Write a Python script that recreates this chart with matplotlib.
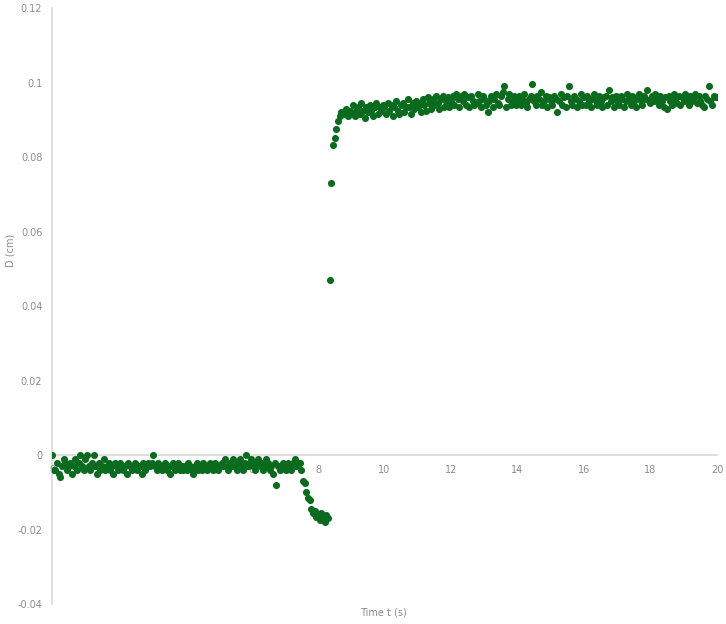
import numpy as np
import matplotlib.pyplot as plt

# sampling step of the tracked video (s)
dt = 0.05

# displacement D, in micrometres, one value per frame
d_base = [
    0, -40, -40, -20, -50, -60, -30, -10, -20, -40, -30, -20, -50, -30, -10, -40, -20, 0, -30, -40,
    -10, 0, -30, -40, -20, 0, -30, -50, -20, -40, -30, -10, -40, -30, -20, -40, -30, -50, -20, -30,
    -40, -20, -30, -40, -30, -50, -20, -30, -40, -30, -20, -40, -30, -30, -50, -20, -40, -30, -20, -30,
    -20, 0, -30, -40, -20, -30, -40, -30, -20, -40, -30, -50, -30, -20, -40, -30, -20, -40, -30, -40,
    -30, -40, -20, -30, -40, -50, -30, -20, -40, -30, -40, -20, -30, -40, -30, -20, -30, -40, -20, -30,
    -40, -30, -20, -30, -10, -30, -40, -20, -30, -10, -30, -40, -20, -10, -30, -40, -20, 0, -30, -20,
    -10, -30, -40, -20, -10, -30, -20, -40, -30, -10, -20, -40, -30, -50, -20, -80, -30, -40, -30, -20,
    -30, -40, -20, -30, -40, -20, -10, -30, -20,
]
d_drop = [-20, -40, -70, -75, -100, -115, -120, -145, -155, -150, -165, -160, -175, -155, -170, -180, -160, -170]
d_jump = [470, 730, 833, 850, 876, 898, 910, 920, 915]
d_top = [
    920, 930, 910, 925,
    915, 940, 910, 925, 935, 915, 945, 925, 905, 935, 920, 940, 925, 910, 935, 945, 915, 935, 925, 940,
    935, 915, 945, 925, 940, 910, 935, 950, 925, 915, 940, 945, 920, 935, 955, 935, 915, 945, 930, 950,
    935, 945, 920, 955, 940, 925, 960, 945, 930, 955, 940, 965, 945, 930, 955, 965, 935, 950, 960, 935,
    950, 965, 940, 970, 955, 935, 965, 950, 970, 940, 960, 935, 965, 950, 940, 945, 970, 950, 935, 965,
    955, 940, 920, 950, 965, 935, 955, 970, 945, 940, 965, 975, 990, 935, 955, 970, 940, 950, 965, 940,
    950, 965, 940, 955, 970, 945, 935, 955, 965, 995, 950, 940, 965, 955, 975, 940, 950, 965, 935, 960,
    950, 940, 965, 955, 920, 950, 970, 940, 960, 935, 965, 990, 950, 940, 965, 955, 935, 950, 970, 940,
    960, 940, 965, 950, 935, 955, 970, 950, 940, 965, 950, 935, 960, 965, 940, 980, 950, 960, 935, 965,
    950, 940, 965, 955, 935, 950, 970, 955, 940, 965, 950, 935, 960, 970, 950, 940, 965, 955, 980, 950,
    945, 965, 950, 970, 955, 940, 965, 950, 935, 960, 930, 965, 950, 940, 970, 955, 945, 965, 940, 960,
    950, 970, 955, 940, 965, 950, 960, 970, 945, 965, 950, 940, 935, 965, 955, 990, 950, 940, 965, 960,
    960,
]

d_um = d_base + d_drop + d_jump + d_top
t = np.arange(len(d_um)) * dt
d = np.array(d_um) / 1e4  # um -> cm

x_ticks = [0, 2, 4, 6, 8, 10, 12, 14, 16, 18, 20]
y_ticks = [-0.04, -0.02, 0, 0.02, 0.04, 0.06, 0.08, 0.1, 0.12]
y_labels = ['-0.04', '-0.02', '0', '0.02', '0.04', '0.06', '0.08', '0.1', '0.12']

fig = plt.figure(figsize=(7.26, 6.24), dpi=100)
ax = fig.add_axes([0.0716, 0.032, 0.916, 0.955])

ax.scatter(t, d, s=26, color='#0a6a1e', linewidths=0, zorder=3)

ax.set_xlim(0, 20)
ax.set_ylim(-0.04, 0.12)
ax.set_xticks(x_ticks)
ax.set_yticks(y_ticks)
ax.set_yticklabels(y_labels)

# Excel-like axes: y axis on the left, x axis crossing at D = 0
ax.spines['top'].set_visible(False)
ax.spines['right'].set_visible(False)
ax.spines['bottom'].set_position(('data', 0))
for s in ['left', 'bottom']:
    ax.spines[s].set_color('#d9d9d9')
    ax.spines[s].set_linewidth(1.2)
    ax.spines[s].set_zorder(0.4)
ax.set_axisbelow(True)
ax.tick_params(length=0, labelsize=7, labelcolor='#8c8c8c', pad=7)

fig.text(0.528, 0.018, 'Time t (s)', ha='center', va='center', fontsize=7, color='#8c8c8c')
fig.text(0.014, 0.598, 'D (cm)', ha='center', va='center', rotation=90, fontsize=7, color='#8c8c8c')

plt.savefig('out.png', dpi=100)
plt.close()
